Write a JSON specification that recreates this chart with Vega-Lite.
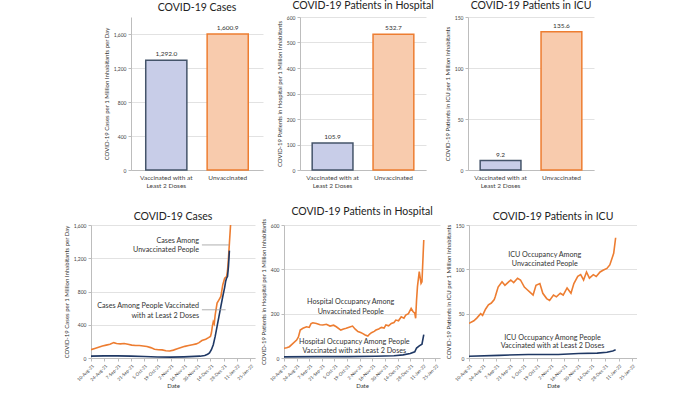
{
"$schema": "https://vega.github.io/schema/vega-lite/v6.json",
"background": "white",
"padding": {"left": 63, "top": 0, "right": 0, "bottom": 0},
"spacing": 17,
"datasets": {
"bars": [
{"metric": "Cases", "group": "Vaccinated with at Least 2 Doses", "value": 1292.0},
{"metric": "Cases", "group": "Unvaccinated", "value": 1600.9},
{"metric": "Hospital", "group": "Vaccinated with at Least 2 Doses", "value": 105.9},
{"metric": "Hospital", "group": "Unvaccinated", "value": 532.7},
{"metric": "ICU", "group": "Vaccinated with at Least 2 Doses", "value": 9.2},
{"metric": "ICU", "group": "Unvaccinated", "value": 135.6}
],
"cases": [
{"date": "2021-08-10", "group": "Unvaccinated", "value": 100},
{"date": "2021-08-14", "group": "Unvaccinated", "value": 115},
{"date": "2021-08-18", "group": "Unvaccinated", "value": 130},
{"date": "2021-08-22", "group": "Unvaccinated", "value": 145},
{"date": "2021-08-26", "group": "Unvaccinated", "value": 155},
{"date": "2021-08-30", "group": "Unvaccinated", "value": 165},
{"date": "2021-09-03", "group": "Unvaccinated", "value": 185},
{"date": "2021-09-06", "group": "Unvaccinated", "value": 175},
{"date": "2021-09-10", "group": "Unvaccinated", "value": 170},
{"date": "2021-09-14", "group": "Unvaccinated", "value": 175},
{"date": "2021-09-18", "group": "Unvaccinated", "value": 165},
{"date": "2021-09-22", "group": "Unvaccinated", "value": 155},
{"date": "2021-09-26", "group": "Unvaccinated", "value": 150},
{"date": "2021-09-30", "group": "Unvaccinated", "value": 150},
{"date": "2021-10-04", "group": "Unvaccinated", "value": 145},
{"date": "2021-10-08", "group": "Unvaccinated", "value": 138},
{"date": "2021-10-12", "group": "Unvaccinated", "value": 125},
{"date": "2021-10-16", "group": "Unvaccinated", "value": 105},
{"date": "2021-10-20", "group": "Unvaccinated", "value": 100},
{"date": "2021-10-24", "group": "Unvaccinated", "value": 98},
{"date": "2021-10-28", "group": "Unvaccinated", "value": 88},
{"date": "2021-11-01", "group": "Unvaccinated", "value": 85},
{"date": "2021-11-05", "group": "Unvaccinated", "value": 95},
{"date": "2021-11-09", "group": "Unvaccinated", "value": 110},
{"date": "2021-11-13", "group": "Unvaccinated", "value": 125},
{"date": "2021-11-17", "group": "Unvaccinated", "value": 140},
{"date": "2021-11-21", "group": "Unvaccinated", "value": 150},
{"date": "2021-11-25", "group": "Unvaccinated", "value": 160},
{"date": "2021-11-29", "group": "Unvaccinated", "value": 170},
{"date": "2021-12-02", "group": "Unvaccinated", "value": 185},
{"date": "2021-12-05", "group": "Unvaccinated", "value": 210},
{"date": "2021-12-09", "group": "Unvaccinated", "value": 225},
{"date": "2021-12-12", "group": "Unvaccinated", "value": 245},
{"date": "2021-12-14", "group": "Unvaccinated", "value": 260},
{"date": "2021-12-15", "group": "Unvaccinated", "value": 300},
{"date": "2021-12-16", "group": "Unvaccinated", "value": 380},
{"date": "2021-12-17", "group": "Unvaccinated", "value": 436},
{"date": "2021-12-18", "group": "Unvaccinated", "value": 412},
{"date": "2021-12-19", "group": "Unvaccinated", "value": 520},
{"date": "2021-12-21", "group": "Unvaccinated", "value": 660},
{"date": "2021-12-23", "group": "Unvaccinated", "value": 700},
{"date": "2021-12-25", "group": "Unvaccinated", "value": 740},
{"date": "2021-12-27", "group": "Unvaccinated", "value": 880},
{"date": "2021-12-29", "group": "Unvaccinated", "value": 960},
{"date": "2021-12-31", "group": "Unvaccinated", "value": 980},
{"date": "2022-01-01", "group": "Unvaccinated", "value": 1050},
{"date": "2022-01-02", "group": "Unvaccinated", "value": 1200},
{"date": "2022-01-03", "group": "Unvaccinated", "value": 1380},
{"date": "2022-01-04", "group": "Unvaccinated", "value": 1560},
{"date": "2022-01-05", "group": "Unvaccinated", "value": 1750},
{"date": "2021-08-10", "group": "Vaccinated", "value": 22},
{"date": "2021-08-24", "group": "Vaccinated", "value": 25},
{"date": "2021-09-07", "group": "Vaccinated", "value": 25},
{"date": "2021-09-21", "group": "Vaccinated", "value": 22},
{"date": "2021-10-05", "group": "Vaccinated", "value": 18},
{"date": "2021-10-19", "group": "Vaccinated", "value": 12},
{"date": "2021-11-02", "group": "Vaccinated", "value": 10},
{"date": "2021-11-16", "group": "Vaccinated", "value": 14},
{"date": "2021-12-03", "group": "Vaccinated", "value": 22},
{"date": "2021-12-08", "group": "Vaccinated", "value": 30},
{"date": "2021-12-11", "group": "Vaccinated", "value": 45},
{"date": "2021-12-13", "group": "Vaccinated", "value": 60},
{"date": "2021-12-15", "group": "Vaccinated", "value": 100},
{"date": "2021-12-17", "group": "Vaccinated", "value": 160},
{"date": "2021-12-19", "group": "Vaccinated", "value": 260},
{"date": "2021-12-21", "group": "Vaccinated", "value": 380},
{"date": "2021-12-23", "group": "Vaccinated", "value": 500},
{"date": "2021-12-25", "group": "Vaccinated", "value": 620},
{"date": "2021-12-27", "group": "Vaccinated", "value": 740},
{"date": "2021-12-29", "group": "Vaccinated", "value": 850},
{"date": "2021-12-30", "group": "Vaccinated", "value": 920},
{"date": "2021-12-31", "group": "Vaccinated", "value": 960},
{"date": "2022-01-01", "group": "Vaccinated", "value": 980},
{"date": "2022-01-02", "group": "Vaccinated", "value": 1100},
{"date": "2022-01-03", "group": "Vaccinated", "value": 1292}
],
"hosp": [
{"date": "2021-08-10", "group": "Unvaccinated", "value": 44},
{"date": "2021-08-13", "group": "Unvaccinated", "value": 46},
{"date": "2021-08-16", "group": "Unvaccinated", "value": 51},
{"date": "2021-08-20", "group": "Unvaccinated", "value": 66},
{"date": "2021-08-24", "group": "Unvaccinated", "value": 81},
{"date": "2021-08-26", "group": "Unvaccinated", "value": 95},
{"date": "2021-08-28", "group": "Unvaccinated", "value": 126},
{"date": "2021-08-31", "group": "Unvaccinated", "value": 134},
{"date": "2021-09-04", "group": "Unvaccinated", "value": 141},
{"date": "2021-09-07", "group": "Unvaccinated", "value": 138},
{"date": "2021-09-09", "group": "Unvaccinated", "value": 155},
{"date": "2021-09-11", "group": "Unvaccinated", "value": 159},
{"date": "2021-09-15", "group": "Unvaccinated", "value": 156},
{"date": "2021-09-19", "group": "Unvaccinated", "value": 150},
{"date": "2021-09-22", "group": "Unvaccinated", "value": 149},
{"date": "2021-09-26", "group": "Unvaccinated", "value": 152},
{"date": "2021-09-30", "group": "Unvaccinated", "value": 144},
{"date": "2021-10-04", "group": "Unvaccinated", "value": 148},
{"date": "2021-10-07", "group": "Unvaccinated", "value": 141},
{"date": "2021-10-12", "group": "Unvaccinated", "value": 126},
{"date": "2021-10-15", "group": "Unvaccinated", "value": 131},
{"date": "2021-10-18", "group": "Unvaccinated", "value": 134},
{"date": "2021-10-22", "group": "Unvaccinated", "value": 140},
{"date": "2021-10-25", "group": "Unvaccinated", "value": 144},
{"date": "2021-10-28", "group": "Unvaccinated", "value": 130},
{"date": "2021-10-31", "group": "Unvaccinated", "value": 119},
{"date": "2021-11-03", "group": "Unvaccinated", "value": 115},
{"date": "2021-11-05", "group": "Unvaccinated", "value": 111},
{"date": "2021-11-08", "group": "Unvaccinated", "value": 104},
{"date": "2021-11-11", "group": "Unvaccinated", "value": 99},
{"date": "2021-11-13", "group": "Unvaccinated", "value": 108},
{"date": "2021-11-15", "group": "Unvaccinated", "value": 114},
{"date": "2021-11-18", "group": "Unvaccinated", "value": 120},
{"date": "2021-11-20", "group": "Unvaccinated", "value": 126},
{"date": "2021-11-23", "group": "Unvaccinated", "value": 131},
{"date": "2021-11-26", "group": "Unvaccinated", "value": 138},
{"date": "2021-11-29", "group": "Unvaccinated", "value": 135},
{"date": "2021-12-01", "group": "Unvaccinated", "value": 149},
{"date": "2021-12-04", "group": "Unvaccinated", "value": 145},
{"date": "2021-12-07", "group": "Unvaccinated", "value": 156},
{"date": "2021-12-10", "group": "Unvaccinated", "value": 160},
{"date": "2021-12-12", "group": "Unvaccinated", "value": 171},
{"date": "2021-12-15", "group": "Unvaccinated", "value": 168},
{"date": "2021-12-18", "group": "Unvaccinated", "value": 186},
{"date": "2021-12-21", "group": "Unvaccinated", "value": 180},
{"date": "2021-12-23", "group": "Unvaccinated", "value": 194},
{"date": "2021-12-26", "group": "Unvaccinated", "value": 200},
{"date": "2021-12-29", "group": "Unvaccinated", "value": 224},
{"date": "2021-12-31", "group": "Unvaccinated", "value": 210},
{"date": "2022-01-02", "group": "Unvaccinated", "value": 202},
{"date": "2022-01-03", "group": "Unvaccinated", "value": 179},
{"date": "2022-01-04", "group": "Unvaccinated", "value": 262},
{"date": "2022-01-05", "group": "Unvaccinated", "value": 322},
{"date": "2022-01-07", "group": "Unvaccinated", "value": 390},
{"date": "2022-01-09", "group": "Unvaccinated", "value": 337},
{"date": "2022-01-10", "group": "Unvaccinated", "value": 344},
{"date": "2022-01-12", "group": "Unvaccinated", "value": 532.7},
{"date": "2021-08-10", "group": "Vaccinated", "value": 5},
{"date": "2021-09-15", "group": "Vaccinated", "value": 6},
{"date": "2021-10-20", "group": "Vaccinated", "value": 6},
{"date": "2021-11-20", "group": "Vaccinated", "value": 8},
{"date": "2021-12-10", "group": "Vaccinated", "value": 10},
{"date": "2021-12-20", "group": "Vaccinated", "value": 14},
{"date": "2021-12-28", "group": "Vaccinated", "value": 20},
{"date": "2022-01-02", "group": "Vaccinated", "value": 28},
{"date": "2022-01-04", "group": "Vaccinated", "value": 45},
{"date": "2022-01-07", "group": "Vaccinated", "value": 55},
{"date": "2022-01-10", "group": "Vaccinated", "value": 62},
{"date": "2022-01-12", "group": "Vaccinated", "value": 105.9}
],
"icu": [
{"date": "2021-08-10", "group": "Unvaccinated", "value": 39},
{"date": "2021-08-15", "group": "Unvaccinated", "value": 42},
{"date": "2021-08-18", "group": "Unvaccinated", "value": 45},
{"date": "2021-08-22", "group": "Unvaccinated", "value": 50},
{"date": "2021-08-24", "group": "Unvaccinated", "value": 48},
{"date": "2021-08-27", "group": "Unvaccinated", "value": 55},
{"date": "2021-08-30", "group": "Unvaccinated", "value": 60},
{"date": "2021-09-02", "group": "Unvaccinated", "value": 62},
{"date": "2021-09-05", "group": "Unvaccinated", "value": 66},
{"date": "2021-09-06", "group": "Unvaccinated", "value": 69},
{"date": "2021-09-09", "group": "Unvaccinated", "value": 80},
{"date": "2021-09-13", "group": "Unvaccinated", "value": 86},
{"date": "2021-09-16", "group": "Unvaccinated", "value": 82},
{"date": "2021-09-19", "group": "Unvaccinated", "value": 85},
{"date": "2021-09-22", "group": "Unvaccinated", "value": 88},
{"date": "2021-09-25", "group": "Unvaccinated", "value": 85},
{"date": "2021-09-29", "group": "Unvaccinated", "value": 90},
{"date": "2021-10-02", "group": "Unvaccinated", "value": 88},
{"date": "2021-10-06", "group": "Unvaccinated", "value": 80},
{"date": "2021-10-09", "group": "Unvaccinated", "value": 77},
{"date": "2021-10-12", "group": "Unvaccinated", "value": 74},
{"date": "2021-10-15", "group": "Unvaccinated", "value": 71},
{"date": "2021-10-18", "group": "Unvaccinated", "value": 82},
{"date": "2021-10-22", "group": "Unvaccinated", "value": 84},
{"date": "2021-10-25", "group": "Unvaccinated", "value": 73},
{"date": "2021-10-29", "group": "Unvaccinated", "value": 67},
{"date": "2021-11-01", "group": "Unvaccinated", "value": 65},
{"date": "2021-11-05", "group": "Unvaccinated", "value": 71},
{"date": "2021-11-08", "group": "Unvaccinated", "value": 69},
{"date": "2021-11-12", "group": "Unvaccinated", "value": 73},
{"date": "2021-11-15", "group": "Unvaccinated", "value": 71},
{"date": "2021-11-19", "group": "Unvaccinated", "value": 79},
{"date": "2021-11-23", "group": "Unvaccinated", "value": 73},
{"date": "2021-11-26", "group": "Unvaccinated", "value": 84},
{"date": "2021-11-30", "group": "Unvaccinated", "value": 92},
{"date": "2021-12-03", "group": "Unvaccinated", "value": 94},
{"date": "2021-12-06", "group": "Unvaccinated", "value": 88},
{"date": "2021-12-09", "group": "Unvaccinated", "value": 97},
{"date": "2021-12-12", "group": "Unvaccinated", "value": 90},
{"date": "2021-12-16", "group": "Unvaccinated", "value": 94},
{"date": "2021-12-19", "group": "Unvaccinated", "value": 92},
{"date": "2021-12-23", "group": "Unvaccinated", "value": 97},
{"date": "2021-12-26", "group": "Unvaccinated", "value": 99},
{"date": "2021-12-30", "group": "Unvaccinated", "value": 101},
{"date": "2022-01-02", "group": "Unvaccinated", "value": 105},
{"date": "2022-01-06", "group": "Unvaccinated", "value": 118},
{"date": "2022-01-08", "group": "Unvaccinated", "value": 135.6},
{"date": "2021-08-10", "group": "Vaccinated", "value": 2},
{"date": "2021-09-10", "group": "Vaccinated", "value": 3},
{"date": "2021-10-10", "group": "Vaccinated", "value": 4},
{"date": "2021-11-10", "group": "Vaccinated", "value": 4},
{"date": "2021-12-01", "group": "Vaccinated", "value": 5},
{"date": "2021-12-20", "group": "Vaccinated", "value": 5.5},
{"date": "2021-12-30", "group": "Vaccinated", "value": 6.5},
{"date": "2022-01-05", "group": "Vaccinated", "value": 8},
{"date": "2022-01-08", "group": "Vaccinated", "value": 9.2}
]
},
"vconcat": [
{
"hconcat": [
{"width": 40, "height": 153, "data": {"values": [{"a": 0}]}, "mark": {"type": "point", "opacity": 0}, "encoding": {}},
{
"width": 132, "height": 153,
"title": {"text": "COVID-19 Cases"},
"data": {"name": "bars"},
"transform": [{"filter": "datum.metric == 'Cases'"}],
"encoding": {
"x": {"field": "group", "type": "nominal", "sort": null, "scale": {"paddingInner": 0.33, "paddingOuter": 0.24}, "axis": {"title": null, "labelAngle": 0, "labelFontSize": 6.5, "ticks": false, "labelPadding": 4, "labelLineHeight": 8, "labelExpr": "datum.value == 'Vaccinated with at Least 2 Doses' ? ['Vaccinated with at', 'Least 2 Doses'] : datum.value"}},
"y": {"field": "value", "type": "quantitative", "scale": {"domain": [0, 1800]}, "axis": {"values": [0, 400, 800, 1200, 1600], "format": ",d", "title": "COVID-19 Cases per 1 Million Inhabitants per Day"}}
},
"layer": [
{"mark": {"type": "bar", "strokeWidth": 1.5}, "encoding": {"fill": {"field": "group", "type": "nominal", "scale": {"domain": ["Vaccinated with at Least 2 Doses", "Unvaccinated"], "range": ["#C8CDE8", "#F8CBAD"]}, "legend": null}, "stroke": {"field": "group", "type": "nominal", "scale": {"domain": ["Vaccinated with at Least 2 Doses", "Unvaccinated"], "range": ["#44546A", "#ED7D31"]}, "legend": null}}},
{"mark": {"type": "text", "dy": -6, "fontSize": 6.5, "color": "#333"}, "encoding": {"text": {"field": "value", "type": "quantitative", "format": ",.1f"}}}
]
},
{"width": 37, "height": 153, "data": {"values": [{"a": 0}]}, "mark": {"type": "point", "opacity": 0}, "encoding": {}},
{
"width": 126, "height": 153,
"title": {"text": "COVID-19 Patients in Hospital"},
"data": {"name": "bars"},
"transform": [{"filter": "datum.metric == 'Hospital'"}],
"encoding": {
"x": {"field": "group", "type": "nominal", "sort": null, "scale": {"paddingInner": 0.33, "paddingOuter": 0.2}, "axis": {"title": null, "labelAngle": 0, "labelFontSize": 6.5, "ticks": false, "labelPadding": 4, "labelLineHeight": 8, "labelExpr": "datum.value == 'Vaccinated with at Least 2 Doses' ? ['Vaccinated with at', 'Least 2 Doses'] : datum.value"}},
"y": {"field": "value", "type": "quantitative", "scale": {"domain": [0, 600]}, "axis": {"values": [0, 100, 200, 300, 400, 500, 600], "title": "COVID-19 Patients in Hospital per 1 Million Inhabitants"}}
},
"layer": [
{"mark": {"type": "bar", "strokeWidth": 1.5}, "encoding": {"fill": {"field": "group", "type": "nominal", "scale": {"domain": ["Vaccinated with at Least 2 Doses", "Unvaccinated"], "range": ["#C8CDE8", "#F8CBAD"]}, "legend": null}, "stroke": {"field": "group", "type": "nominal", "scale": {"domain": ["Vaccinated with at Least 2 Doses", "Unvaccinated"], "range": ["#44546A", "#ED7D31"]}, "legend": null}}},
{"mark": {"type": "text", "dy": -6, "fontSize": 6.5, "color": "#333"}, "encoding": {"text": {"field": "value", "type": "quantitative", "format": ",.1f"}}}
]
},
{"width": 42, "height": 153, "data": {"values": [{"a": 0}]}, "mark": {"type": "point", "opacity": 0}, "encoding": {}},
{
"width": 126, "height": 153,
"title": {"text": "COVID-19 Patients in ICU"},
"data": {"name": "bars"},
"transform": [{"filter": "datum.metric == 'ICU'"}],
"encoding": {
"x": {"field": "group", "type": "nominal", "sort": null, "scale": {"paddingInner": 0.33, "paddingOuter": 0.2}, "axis": {"title": null, "labelAngle": 0, "labelFontSize": 6.5, "ticks": false, "labelPadding": 4, "labelLineHeight": 8, "labelExpr": "datum.value == 'Vaccinated with at Least 2 Doses' ? ['Vaccinated with at', 'Least 2 Doses'] : datum.value"}},
"y": {"field": "value", "type": "quantitative", "scale": {"domain": [0, 150]}, "axis": {"values": [0, 50, 100, 150], "title": "COVID-19 Patients in ICU  per 1 Million Inhabitants"}}
},
"layer": [
{"mark": {"type": "bar", "strokeWidth": 1.5}, "encoding": {"fill": {"field": "group", "type": "nominal", "scale": {"domain": ["Vaccinated with at Least 2 Doses", "Unvaccinated"], "range": ["#C8CDE8", "#F8CBAD"]}, "legend": null}, "stroke": {"field": "group", "type": "nominal", "scale": {"domain": ["Vaccinated with at Least 2 Doses", "Unvaccinated"], "range": ["#44546A", "#ED7D31"]}, "legend": null}}},
{"mark": {"type": "text", "dy": -6, "fontSize": 6.5, "color": "#333"}, "encoding": {"text": {"field": "value", "type": "quantitative", "format": ",.1f"}}}
]
}
],
"spacing": 0,
"bounds": "flush"
},
{
"hconcat": [
{
"width": 164, "height": 133,
"title": {"text": "COVID-19 Cases", "offset": 1},
"encoding": {
"x": {"field": "date", "type": "temporal", "scale": {"type": "utc", "domain": [{"year": 2021, "month": 8, "date": 10, "utc": true}, {"year": 2022, "month": 1, "date": 30, "utc": true}]}, "axis": {"values": [{"year": 2021, "month": 8, "date": 10, "utc": true}, {"year": 2021, "month": 8, "date": 24, "utc": true}, {"year": 2021, "month": 9, "date": 7, "utc": true}, {"year": 2021, "month": 9, "date": 21, "utc": true}, {"year": 2021, "month": 10, "date": 5, "utc": true}, {"year": 2021, "month": 10, "date": 19, "utc": true}, {"year": 2021, "month": 11, "date": 2, "utc": true}, {"year": 2021, "month": 11, "date": 16, "utc": true}, {"year": 2021, "month": 11, "date": 30, "utc": true}, {"year": 2021, "month": 12, "date": 14, "utc": true}, {"year": 2021, "month": 12, "date": 28, "utc": true}, {"year": 2022, "month": 1, "date": 11, "utc": true}, {"year": 2022, "month": 1, "date": 25, "utc": true}], "format": "%-d-%b-%y", "labelAngle": -45, "labelFontSize": 4.5, "labelOverlap": false, "labelBound": false, "grid": false, "title": "Date", "titlePadding": 1}},
"y": {"field": "value", "type": "quantitative", "scale": {"domain": [0, 1600]}, "axis": {"values": [0, 400, 800, 1200, 1600], "format": ",d", "title": "COVID-19 Cases per 1 Million Inhabitants per Day"}}
},
"layer": [
{"data": {"name": "cases"}, "mark": {"type": "line", "strokeWidth": 1.6, "clip": true},
"encoding": {"color": {"field": "group", "type": "nominal", "scale": {"domain": ["Vaccinated", "Unvaccinated"], "range": ["#1F3864", "#ED7D31"]}, "legend": null}}},
{"data": {"values": [{"date": "2021-12-05", "date2": "2022-01-03", "value": 1360}, {"date": "2021-12-05", "date2": "2021-12-30", "value": 580}]}, "mark": {"type": "rule", "color": "#9a9a9a", "strokeWidth": 0.8},
"encoding": {"x2": {"field": "date2"}}},
{"data": {"values": [{"date": "2021-12-02", "value": 1408, "text": "Cases Among"}, {"date": "2021-12-02", "value": 1300, "text": "Unvaccinated People"}, {"date": "2021-12-02", "value": 620, "text": "Cases Among People Vaccinated"}, {"date": "2021-12-02", "value": 508, "text": "with at Least 2 Doses"}]}, "mark": {"type": "text", "align": "right", "baseline": "middle", "fontSize": 7.2, "color": "#333"},
"encoding": {"text": {"field": "text"}}}
]
},
{
"width": 156, "height": 133,
"title": {"text": "COVID-19 Patients in Hospital", "offset": 1},
"encoding": {
"x": {"field": "date", "type": "temporal", "scale": {"type": "utc", "domain": [{"year": 2021, "month": 8, "date": 10, "utc": true}, {"year": 2022, "month": 1, "date": 30, "utc": true}]}, "axis": {"values": [{"year": 2021, "month": 8, "date": 10, "utc": true}, {"year": 2021, "month": 8, "date": 24, "utc": true}, {"year": 2021, "month": 9, "date": 7, "utc": true}, {"year": 2021, "month": 9, "date": 21, "utc": true}, {"year": 2021, "month": 10, "date": 5, "utc": true}, {"year": 2021, "month": 10, "date": 19, "utc": true}, {"year": 2021, "month": 11, "date": 2, "utc": true}, {"year": 2021, "month": 11, "date": 16, "utc": true}, {"year": 2021, "month": 11, "date": 30, "utc": true}, {"year": 2021, "month": 12, "date": 14, "utc": true}, {"year": 2021, "month": 12, "date": 28, "utc": true}, {"year": 2022, "month": 1, "date": 11, "utc": true}, {"year": 2022, "month": 1, "date": 25, "utc": true}], "format": "%-d-%b-%y", "labelAngle": -45, "labelFontSize": 4.5, "labelOverlap": false, "labelBound": false, "grid": false, "title": "Date", "titlePadding": 1}},
"y": {"field": "value", "type": "quantitative", "scale": {"domain": [0, 600]}, "axis": {"values": [0, 200, 400, 600], "title": "COVID-19 Patients in Hospital per 1 Million Inhabitants"}}
},
"layer": [
{"data": {"name": "hosp"}, "mark": {"type": "line", "strokeWidth": 1.6, "clip": true},
"encoding": {"color": {"field": "group", "type": "nominal", "scale": {"domain": ["Vaccinated", "Unvaccinated"], "range": ["#1F3864", "#ED7D31"]}, "legend": null}}},
{"data": {"values": [{"date": "2021-10-23", "value": 254, "text": "Hospital Occupancy Among"}, {"date": "2021-10-23", "value": 209, "text": "Unvaccinated People"}, {"date": "2021-10-27", "value": 74, "text": "Hospital Occupancy  Among People"}, {"date": "2021-10-27", "value": 33, "text": "Vaccinated with at Least 2 Doses"}]}, "mark": {"type": "text", "align": "center", "baseline": "middle", "fontSize": 7.2, "color": "#333"},
"encoding": {"text": {"field": "text"}}}
]
},
{
"width": 168, "height": 133,
"title": {"text": "COVID-19 Patients in ICU", "offset": 1},
"encoding": {
"x": {"field": "date", "type": "temporal", "scale": {"type": "utc", "domain": [{"year": 2021, "month": 8, "date": 10, "utc": true}, {"year": 2022, "month": 1, "date": 30, "utc": true}]}, "axis": {"values": [{"year": 2021, "month": 8, "date": 10, "utc": true}, {"year": 2021, "month": 8, "date": 24, "utc": true}, {"year": 2021, "month": 9, "date": 7, "utc": true}, {"year": 2021, "month": 9, "date": 21, "utc": true}, {"year": 2021, "month": 10, "date": 5, "utc": true}, {"year": 2021, "month": 10, "date": 19, "utc": true}, {"year": 2021, "month": 11, "date": 2, "utc": true}, {"year": 2021, "month": 11, "date": 16, "utc": true}, {"year": 2021, "month": 11, "date": 30, "utc": true}, {"year": 2021, "month": 12, "date": 14, "utc": true}, {"year": 2021, "month": 12, "date": 28, "utc": true}, {"year": 2022, "month": 1, "date": 11, "utc": true}, {"year": 2022, "month": 1, "date": 25, "utc": true}], "format": "%-d-%b-%y", "labelAngle": -45, "labelFontSize": 4.5, "labelOverlap": false, "labelBound": false, "grid": false, "title": "Date", "titlePadding": 1}},
"y": {"field": "value", "type": "quantitative", "scale": {"domain": [0, 150]}, "axis": {"values": [0, 50, 100, 150], "title": "COVID-19 Patients in ICU  per 1 Million Inhabitants"}}
},
"layer": [
{"data": {"name": "icu"}, "mark": {"type": "line", "strokeWidth": 1.6, "clip": true},
"encoding": {"color": {"field": "group", "type": "nominal", "scale": {"domain": ["Vaccinated", "Unvaccinated"], "range": ["#1F3864", "#ED7D31"]}, "legend": null}}},
{"data": {"values": [{"date": "2021-10-27", "value": 116, "text": "ICU Occupancy Among"}, {"date": "2021-10-27", "value": 106, "text": "Unvaccinated People"}, {"date": "2021-11-04", "value": 23, "text": "ICU Occupancy Among People"}, {"date": "2021-11-04", "value": 13, "text": "Vaccinated with at Least 2 Doses"}]}, "mark": {"type": "text", "align": "center", "baseline": "middle", "fontSize": 7.2, "color": "#333"},
"encoding": {"text": {"field": "text"}}}
]
}
],
"spacing": 29,
"bounds": "flush"
}
],
"config": {
"font": "Lato",
"view": {"stroke": null},
"title": {"fontSize": 10.5, "fontWeight": "normal", "color": "#222", "offset": 4},
"axis": {"labelFontSize": 5, "titleFontSize": 6, "titleFontWeight": "normal", "labelColor": "#444", "titleColor": "#333", "gridColor": "#e2e2e2", "domainColor": "#bdbdbd", "tickColor": "#bdbdbd", "tickSize": 3, "labelPadding": 2, "titlePadding": 4},
"axisX": {"labelOverlap": false}
}
}
